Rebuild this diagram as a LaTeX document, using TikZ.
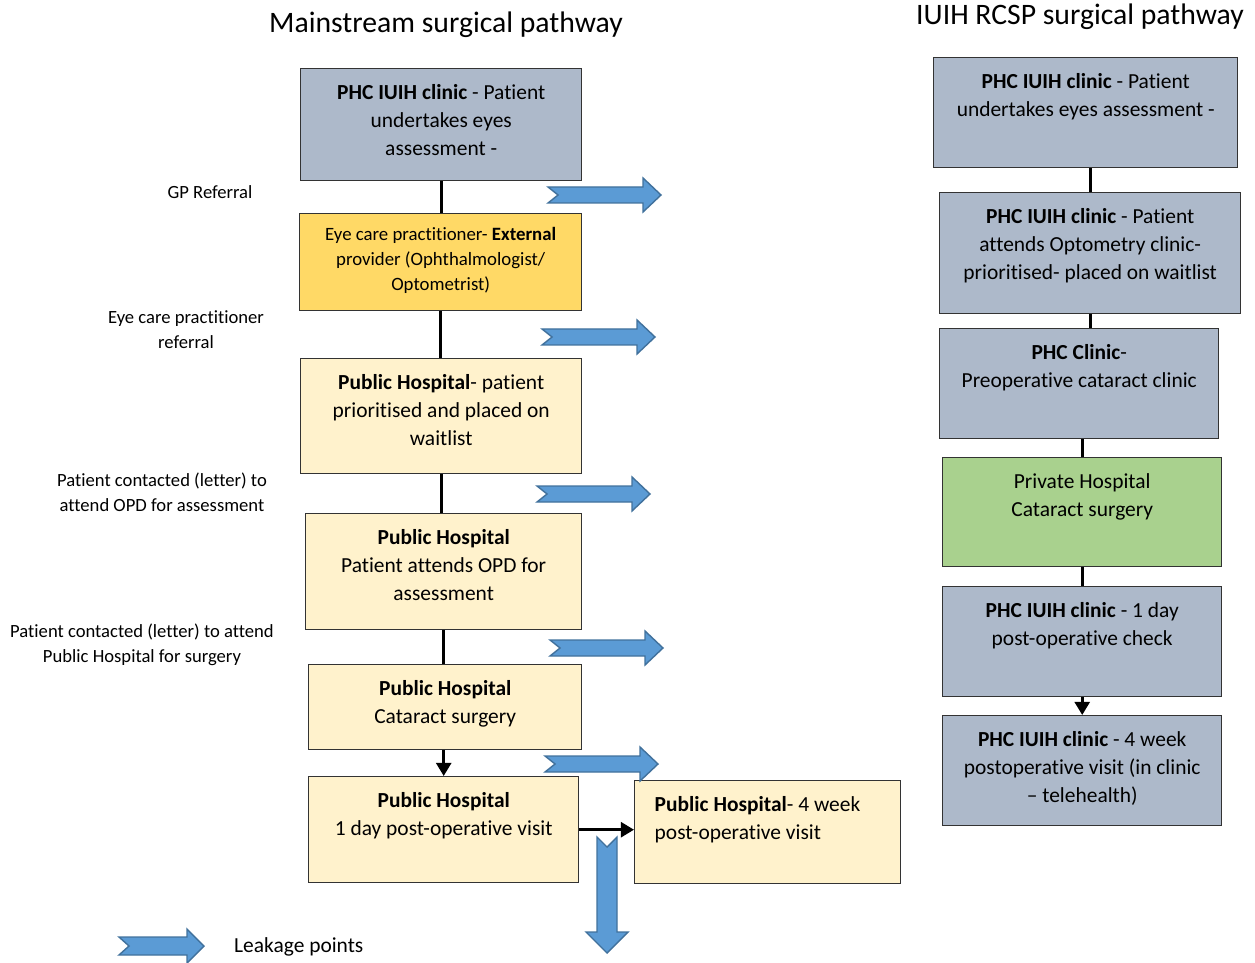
\documentclass[tikz,border=0pt]{standalone}
\usepackage{fontspec}
\setmainfont{Carlito}[Ligatures=NoCommon]
\usetikzlibrary{arrows.meta}

\definecolor{phcblue}{HTML}{ADB9CA}
\definecolor{extgold}{HTML}{FFD966}
\definecolor{hospcream}{HTML}{FFF2CC}
\definecolor{privgreen}{HTML}{A9D18E}
\definecolor{leakfill}{HTML}{5B9BD5}
\definecolor{leakline}{HTML}{41719C}

\newlength\pxu
\setlength\pxu{0.2mm}

% box text: width, height (px), text
\newcommand{\bx}[3]{\parbox[t][#2\pxu][t]{#1\pxu}{\centering\fontsize{12.2}{15.9}\selectfont\rule{0pt}{17.4pt}#3}}
\newcommand{\bxleft}[3]{\parbox[t][#2\pxu][t]{#1\pxu}{\raggedright\leftskip=20\pxu\fontsize{12.2}{15.9}\selectfont\rule{0pt}{17.4pt}#3}}

% notched block arrow: length, head base, shaft half, head half
\newcommand{\leakarrow}[4]{%
  \draw[leakstyle] (0,-#3) -- (#2,-#3) -- (#2,-#4) -- (#1,0) -- (#2,#4) -- (#2,#3) -- (0,#3) -- (10,0) -- cycle;}

\tikzset{
  stagebox/.style={draw=black!80, line width=0.8pt, inner sep=0pt, anchor=north west},
  sidelabel/.style={align=center, font=\fontsize{10.6}{14.2}\selectfont},
  link/.style={line width=1.7pt},
  linkarrow/.style={line width=1.7pt, -{Triangle[length=7.5pt,width=8.5pt]}},
  leakstyle/.style={fill=leakfill, draw=leakline, line width=0.8pt},
}

\begin{document}
\begin{tikzpicture}[x=0.2mm, y=-0.2mm]
    \useasboundingbox (0,0) rectangle (1255,963);

    % --- Titles ---
    \node[font=\fontsize{16.9}{20}\selectfont] (maintitle) at (446,25) {Mainstream surgical pathway};
    \node[font=\fontsize{16.9}{20}\selectfont] (rcsptitle) at (1080,17) {IUIH RCSP surgical pathway};
    % ---

    % --- Mainstream pathway boxes ---
    \node[stagebox, fill=phcblue] (b1) at (300,68) {\bx{281}{112}{\textbf{PHC IUIH clinic} - Patient\\undertakes eyes\\assessment -}};
    \node[stagebox, fill=extgold] (b2) at (299,213) {\parbox[t][97\pxu][t]{282\pxu}{\centering\fontsize{10.7}{14.2}\selectfont\rule{0pt}{15.4pt}Eye care practitioner- \textbf{External}\\provider (Ophthalmologist/\\Optometrist)}};
    \node[stagebox, fill=hospcream] (b3) at (300,358) {\bx{281}{115}{\textbf{Public Hospital}- patient\\prioritised and placed on\\waitlist}};
    \node[stagebox, fill=hospcream] (b4) at (305,513) {\bx{276}{116}{\textbf{Public Hospital}\\Patient attends OPD for\\assessment}};
    \node[stagebox, fill=hospcream] (b5) at (308,664) {\bx{273}{85}{\textbf{Public Hospital}\\Cataract surgery}};
    \node[stagebox, fill=hospcream] (b6) at (308,776) {\bx{270}{106}{\textbf{Public Hospital}\\1 day post-operative visit}};
    \node[stagebox, fill=hospcream] (b7) at (634,780) {\bxleft{266}{103}{\textbf{Public Hospital}- 4 week\\post-operative visit}};
    % ---

    % --- Mainstream connectors ---
    \draw[link] (b1.south) -- (b1.south |- b2.north);
    \draw[link] (b2.south) -- (b2.south |- b3.north);
    \draw[link] (b3.south) -- (b3.south |- b4.north);
    \draw[link] (b4.south) -- (b4.south |- b5.north);
    \draw[linkarrow] (b6.north |- b5.south) -- (b6.north);
    \draw[linkarrow] (b6.east) -- (b6.east -| b7.west);
    % ---

    % --- Referral labels ---
    \node[sidelabel] (gpref) at (210,192) {GP Referral};
    \node[sidelabel] (ecref) at (186,330) {Eye care practitioner\\referral};
    \node[sidelabel] (opdref) at (162,492) {Patient contacted (letter) to\\attend OPD for assessment};
    \node[sidelabel] (surgref) at (142,645) {Patient contacted (letter) to attend\\Public Hospital for surgery};
    % ---

    % --- IUIH RCSP pathway boxes ---
    \node[stagebox, fill=phcblue] (r1) at (933,57) {\bx{304}{110}{\textbf{PHC IUIH clinic} - Patient\\undertakes eyes assessment -}};
    \node[stagebox, fill=phcblue] (r2) at (939,192) {\bx{301}{121}{\textbf{PHC IUIH clinic} - Patient\\attends Optometry clinic-\\prioritised- placed on waitlist}};
    \node[stagebox, fill=phcblue] (r3) at (939,328) {\bx{279}{110}{\textbf{PHC Clinic}-\\Preoperative cataract clinic}};
    \node[stagebox, fill=privgreen] (r4) at (942,457) {\bx{279}{109}{Private Hospital\\Cataract surgery}};
    \node[stagebox, fill=phcblue] (r5) at (942,586) {\bx{279}{110}{\textbf{PHC IUIH clinic} - 1 day\\post-operative check}};
    \node[stagebox, fill=phcblue] (r6) at (942,715) {\bx{279}{110}{\textbf{PHC IUIH clinic} - 4 week\\postoperative visit (in clinic\\– telehealth)}};
    % ---

    % --- IUIH RCSP connectors ---
    \draw[link] (r2.north |- r1.south) -- (r2.north);
    \draw[link] (r2.south) -- (r2.south |- r3.north);
    \draw[link] (r4.north |- r3.south) -- (r4.north);
    \draw[link] (r4.south) -- (r4.south |- r5.north);
    \draw[linkarrow] (r5.south) -- (r5.south |- r6.north);
    % ---

    % --- Leakage arrows ---
    \foreach \x/\y in {548/195, 542/337, 537/494, 550/648, 545/764} {
        \begin{scope}[shift={(\x,\y)}]
            \leakarrow{113}{95}{8}{17}
        \end{scope}
    }
    \begin{scope}[shift={(607,837)}, rotate=-90]
        \leakarrow{116}{95}{10}{21}
    \end{scope}
    % ---

    % --- Legend ---
    \begin{scope}[shift={(119,946)}]
        \leakarrow{85}{68}{9}{17}
    \end{scope}
    \node[anchor=west, font=\fontsize{12.2}{14}\selectfont] (leaklbl) at (228,947) {Leakage points};
    % ---
\end{tikzpicture}
\end{document}
